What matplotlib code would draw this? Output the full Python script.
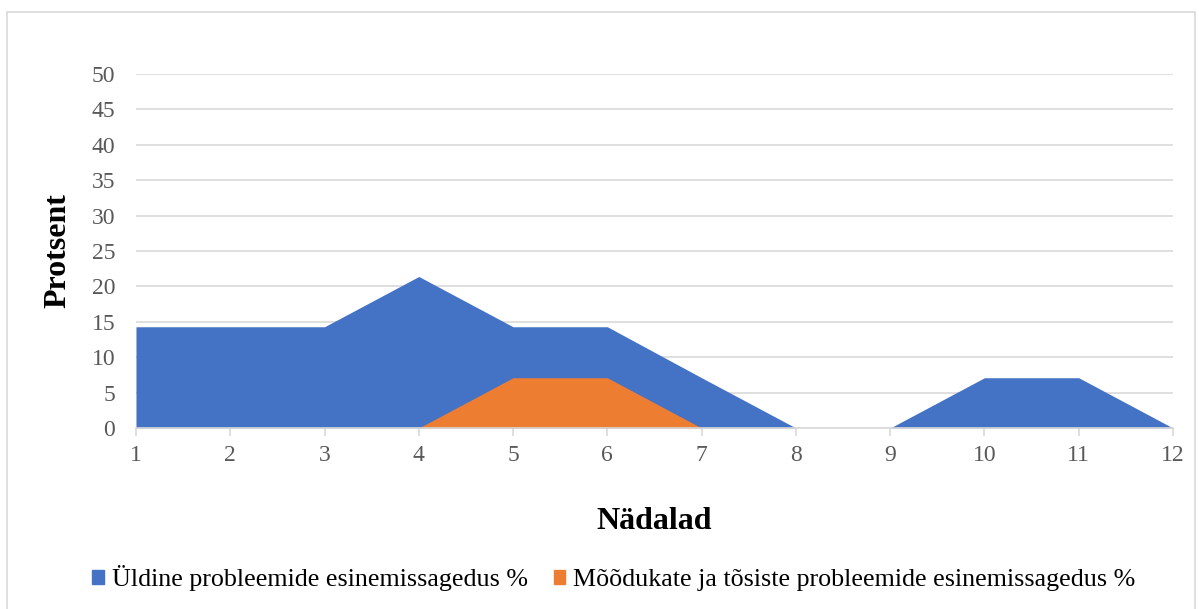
import matplotlib.pyplot as plt
from matplotlib.patches import Patch, Rectangle

weeks = [1, 2, 3, 4, 5, 6, 7, 8, 9, 10, 11, 12]
general = [14.3, 14.3, 14.3, 21.4, 14.3, 14.3, 7.1, 0, 0, 7.1, 7.1, 0]
serious = [0, 0, 0, 0, 7.1, 7.1, 0, 0, 0, 0, 0, 0]

label_general = "Üldine probleemide esinemissagedus %"
label_serious = "Mõõdukate ja tõsiste probleemide esinemissagedus %"

blue = "#4472C4"
orange = "#ED7D31"
grid = "#D9D9D9"
text_gray = "#595959"

plt.rcParams["font.family"] = ["Liberation Serif", "DejaVu Serif"]

fig = plt.figure(figsize=(11.99, 6.09), dpi=100)
ax = fig.add_axes([0.1134, 0.2972, 0.8649, 0.5813])

ax.fill_between(weeks, general, 0, color=blue, linewidth=0, zorder=2)
ax.fill_between(weeks, serious, 0, color=orange, linewidth=0, zorder=3)

ax.set_xlim(1, 12)
ax.set_ylim(0, 50)
ax.set_xticks(weeks)
ax.set_yticks(range(0, 51, 5))
ax.yaxis.grid(True, color=grid, linewidth=1.2, zorder=1)
ax.set_axisbelow(True)

for side in ["top", "right", "left"]:
    ax.spines[side].set_visible(False)
ax.spines["bottom"].set_color(grid)
ax.spines["bottom"].set_linewidth(1.2)
ax.spines["bottom"].set_zorder(4)

ax.tick_params(axis="x", colors=grid, length=6, width=1.2, labelcolor=text_gray,
               labelsize=17, pad=6)
ax.tick_params(axis="y", length=0, labelcolor=text_gray, labelsize=17, pad=15)

ax.set_xlabel("Nädalad", fontsize=23, fontweight="bold", labelpad=30)
ax.set_ylabel("Protsent", fontsize=23, fontweight="bold", labelpad=14)

handles = [Patch(color=blue, label=label_general),
           Patch(color=orange, label=label_serious)]
fig.legend(handles=handles, loc="center", bbox_to_anchor=(0.512, 0.051), ncol=2,
           frameon=False, fontsize=18.7, handlelength=0.45, handleheight=0.45,
           handletextpad=0.3, columnspacing=1.0)

fig.patches.append(Rectangle((0.006, -0.01), 0.991, 0.99, transform=fig.transFigure,
                             fill=False, edgecolor=grid, linewidth=1.2))

fig.savefig("out.png", dpi=100)
